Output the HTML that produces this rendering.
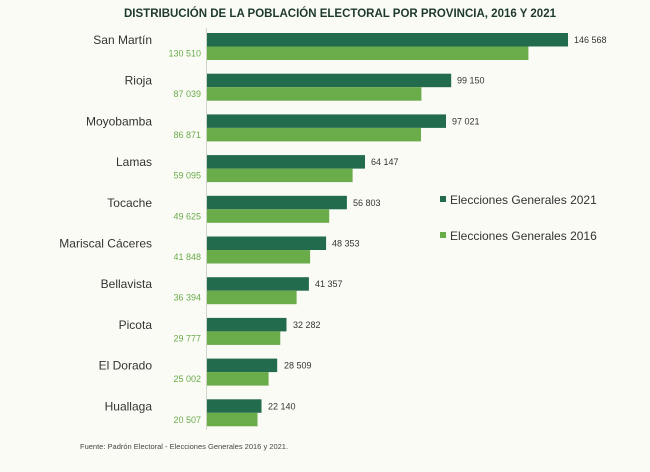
<!DOCTYPE html>
<html><head><meta charset="utf-8"><style>
html,body{margin:0;padding:0;background:#fbfbf6;}
svg{display:block;font-family:"Liberation Sans",Arial,sans-serif;}
.d{fill:#236b4d}.l{fill:#6aab4a}
.v{font-size:9px;fill:#333}
.w{font-size:9px;fill:#6aab4a;text-anchor:end}
.n{font-size:12px;fill:#333;text-anchor:end}
</style></head><body>
<svg width="650" height="472" viewBox="0 0 650 472">
<rect width="650" height="472" fill="#fbfbf6"/>
<text x="340" y="17" text-anchor="middle" font-size="11.5" font-weight="bold" fill="#1e3a2c">DISTRIBUCIÓN DE LA POBLACIÓN ELECTORAL POR PROVINCIA, 2016 Y  2021</text>
<line x1="206.5" y1="28" x2="206.5" y2="430" stroke="#cfd3c8" stroke-width="1"/>

<rect class="d" x="207" y="33" width="361" height="13.5"/><rect class="l" x="207" y="46.5" width="321.4" height="13.5"/>
<text class="v" x="574" y="43">146 568</text><text class="w" x="201" y="56.5">130 510</text><text class="n" x="152" y="44">San Martín</text>

<rect class="d" x="207" y="73.7" width="244.2" height="13.5"/><rect class="l" x="207" y="87.2" width="214.4" height="13.5"/>
<text class="v" x="457" y="83.7">99 150</text><text class="w" x="201" y="97.2">87 039</text><text class="n" x="152" y="84.7">Rioja</text>

<rect class="d" x="207" y="114.4" width="239" height="13.5"/><rect class="l" x="207" y="127.9" width="214" height="13.5"/>
<text class="v" x="452" y="124.4">97 021</text><text class="w" x="201" y="137.9">86 871</text><text class="n" x="152" y="125.4">Moyobamba</text>

<rect class="d" x="207" y="155.1" width="158" height="13.5"/><rect class="l" x="207" y="168.6" width="145.6" height="13.5"/>
<text class="v" x="371" y="165.1">64 147</text><text class="w" x="201" y="178.6">59 095</text><text class="n" x="152" y="166.1">Lamas</text>

<rect class="d" x="207" y="195.8" width="139.9" height="13.5"/><rect class="l" x="207" y="209.3" width="122.2" height="13.5"/>
<text class="v" x="353" y="205.8">56 803</text><text class="w" x="201" y="219.3">49 625</text><text class="n" x="152" y="206.8">Tocache</text>

<rect class="d" x="207" y="236.5" width="119.1" height="13.5"/><rect class="l" x="207" y="250" width="103.1" height="13.5"/>
<text class="v" x="332" y="246.5">48 353</text><text class="w" x="201" y="260">41 848</text><text class="n" x="152" y="247.5">Mariscal Cáceres</text>

<rect class="d" x="207" y="277.2" width="101.9" height="13.5"/><rect class="l" x="207" y="290.7" width="89.6" height="13.5"/>
<text class="v" x="315" y="287.2">41 357</text><text class="w" x="201" y="300.7">36 394</text><text class="n" x="152" y="288.2">Bellavista</text>

<rect class="d" x="207" y="317.9" width="79.5" height="13.5"/><rect class="l" x="207" y="331.4" width="73.3" height="13.5"/>
<text class="v" x="293" y="327.9">32 282</text><text class="w" x="201" y="341.4">29 777</text><text class="n" x="152" y="328.9">Picota</text>

<rect class="d" x="207" y="358.6" width="70.2" height="13.5"/><rect class="l" x="207" y="372.1" width="61.6" height="13.5"/>
<text class="v" x="284" y="368.6">28 509</text><text class="w" x="201" y="382.1">25 002</text><text class="n" x="152" y="369.6">El Dorado</text>

<rect class="d" x="207" y="399.3" width="54.5" height="13.5"/><rect class="l" x="207" y="412.8" width="50.5" height="13.5"/>
<text class="v" x="268" y="409.3">22 140</text><text class="w" x="201" y="422.8">20 507</text><text class="n" x="152" y="410.3">Huallaga</text>

<rect x="440" y="196" width="6" height="6" fill="#236b4d"/>
<text x="450" y="204" font-size="12" fill="#333">Elecciones  Generales 2021</text>
<rect x="440" y="232" width="6" height="6" fill="#6aab4a"/>
<text x="450" y="240" font-size="12" fill="#333">Elecciones  Generales 2016</text>
<text x="80" y="449" font-size="7.5" fill="#444">Fuente: Padrón Electoral - Elecciones Generales 2016 y 2021.</text>
</svg>
</body></html>
